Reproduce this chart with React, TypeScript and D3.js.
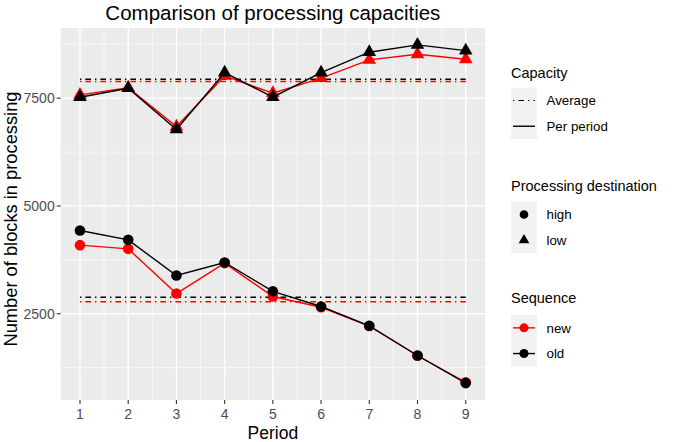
import React from "react";
import * as d3 from "d3";

const periods = [1, 2, 3, 4, 5, 6, 7, 8, 9];
const lowNew = [7577, 7740, 6841, 8017, 7616, 7964, 8388, 8520, 8404];
const lowOld = [7523, 7732, 6775, 8094, 7523, 8094, 8567, 8736, 8604];
const highNew = [4091, 4005, 2969, 3674, 2899, 2650, 2215, 1525, 910];
const highOld = [4430, 4214, 3386, 3688, 3020, 2667, 2220, 1531, 891];
const avgLowNew = 7885;
const avgLowOld = 7940;
const avgHighNew = 2776;
const avgHighOld = 2885;
const yTicks = [2500, 5000, 7500];
const yMinor = [1250, 3750, 6250, 8750];
const xMinor = [1.5, 2.5, 3.5, 4.5, 5.5, 6.5, 7.5, 8.5];

const FONT = "'Liberation Sans', Arial, sans-serif";
const RED = "#FF0000";
const BLACK = "#000000";
const DOTDASH = "1.4 4 5.6 4";

export default function App() {
  const W = 685, H = 442;
  const left = 60.7, right = 485, top = 28, bottom = 400;
  const all = [...lowNew, ...lowOld, ...highNew, ...highOld, avgLowNew, avgLowOld, avgHighNew, avgHighOld];
  const [mn, mx] = d3.extent(all) as [number, number];
  const pad = (mx - mn) * 0.05;
  const x = d3.scaleLinear().domain([1 - 0.4, 9 + 0.4]).range([left, right]);
  const y = d3.scaleLinear().domain([mn - pad, mx + pad]).range([bottom, top]);
  const line = d3.line<number>().x((_, i) => x(periods[i])).y((d) => y(d));
  const tri = d3.symbol().type(d3.symbolTriangle).size(80);
  const triSmall = d3.symbol().type(d3.symbolTriangle).size(50);

  const series = [
    { vals: highNew, color: RED, shape: "circle" },
    { vals: lowNew, color: RED, shape: "tri" },
    { vals: highOld, color: BLACK, shape: "circle" },
    { vals: lowOld, color: BLACK, shape: "tri" },
  ];
  const avgs = [
    { v: avgLowNew, color: RED },
    { v: avgHighNew, color: RED },
    { v: avgLowOld, color: BLACK },
    { v: avgHighOld, color: BLACK },
  ];

  const lx = 511, kw = 26, kh = 25.7, tx = 546.5;
  const keyBg = "#F2F2F2";

  return (
    <svg width={W} height={H} style={{ position: "absolute", left: 0, top: 0, background: "#fff" }} fontFamily={FONT}>
      <rect x={0} y={0} width={W} height={H} fill="#fff" />
      <text x={(left + right) / 2} y={20} textAnchor="middle" fontSize={20.5} fill="#000">
        Comparison of processing capacities
      </text>
      <rect x={left} y={top} width={right - left} height={bottom - top} fill="#EBEBEB" />
      {yMinor.map((t) => (
        <line key={"ym" + t} x1={left} x2={right} y1={y(t)} y2={y(t)} stroke="#fff" strokeWidth={0.6} />
      ))}
      {xMinor.map((t) => (
        <line key={"xm" + t} x1={x(t)} x2={x(t)} y1={top} y2={bottom} stroke="#fff" strokeWidth={0.6} />
      ))}
      {yTicks.map((t) => (
        <line key={"yM" + t} x1={left} x2={right} y1={y(t)} y2={y(t)} stroke="#fff" strokeWidth={1.3} />
      ))}
      {periods.map((t) => (
        <line key={"xM" + t} x1={x(t)} x2={x(t)} y1={top} y2={bottom} stroke="#fff" strokeWidth={1.3} />
      ))}
      {avgs.map((a, i) => (
        <line key={"avg" + i} x1={x(1)} x2={x(9)} y1={y(a.v)} y2={y(a.v)} stroke={a.color} strokeWidth={1.5} strokeDasharray={DOTDASH} />
      ))}
      {series.map((s, i) => (
        <g key={"s" + i}>
          <path d={line(s.vals) as string} fill="none" stroke={s.color} strokeWidth={1.4} />
          {s.vals.map((v, j) =>
            s.shape === "circle" ? (
              <circle key={j} cx={x(periods[j])} cy={y(v)} r={5.3} fill={s.color} />
            ) : (
              <path key={j} d={tri() as string} transform={`translate(${x(periods[j])},${y(v)})`} fill={s.color} />
            )
          )}
        </g>
      ))}
      {/* y axis */}
      {yTicks.map((t) => (
        <g key={"yt" + t}>
          <line x1={left - 4} x2={left} y1={y(t)} y2={y(t)} stroke="#333" strokeWidth={1.1} />
          <text x={left - 6} y={y(t)} dy="0.36em" textAnchor="end" fontSize={14} fill="#4D4D4D">
            {t}
          </text>
        </g>
      ))}
      {periods.map((t) => (
        <g key={"xt" + t}>
          <line x1={x(t)} x2={x(t)} y1={bottom} y2={bottom + 4} stroke="#333" strokeWidth={1.1} />
          <text x={x(t)} y={bottom + 18.5} textAnchor="middle" fontSize={14} fill="#4D4D4D">
            {t}
          </text>
        </g>
      ))}
      <text x={(left + right) / 2} y={439} textAnchor="middle" fontSize={17.5} fill="#000">
        Period
      </text>
      <text transform={`translate(16.5,${(top + bottom) / 2 + 5}) rotate(-90)`} textAnchor="middle" fontSize={18.3} fill="#000">
        Number of blocks in processing
      </text>

      {/* legends */}
      <text x={lx} y={78} fontSize={14.5} fill="#000">Capacity</text>
      <rect x={lx} y={87.7} width={kw} height={kh} fill={keyBg} />
      <rect x={lx} y={87.7 + kh} width={kw} height={kh} fill={keyBg} />
      <line x1={lx + 2} x2={lx + kw - 2} y1={87.7 + kh / 2} y2={87.7 + kh / 2} stroke="#000" strokeWidth={1.1} strokeDasharray={DOTDASH} />
      <line x1={lx + 2} x2={lx + kw - 2} y1={87.7 + kh * 1.5} y2={87.7 + kh * 1.5} stroke="#000" strokeWidth={1.4} />
      <text x={tx} y={87.7 + kh / 2} dy="0.35em" fontSize={13.3} fill="#000">Average</text>
      <text x={tx} y={87.7 + kh * 1.5} dy="0.35em" fontSize={13.3} fill="#000">Per period</text>

      <text x={lx} y={190.5} fontSize={14.5} fill="#000">Processing destination</text>
      <rect x={lx} y={201.7} width={kw} height={kh} fill={keyBg} />
      <rect x={lx} y={201.7 + kh} width={kw} height={kh} fill={keyBg} />
      <circle cx={lx + kw / 2} cy={201.7 + kh / 2} r={4.3} fill="#000" />
      <path d={triSmall() as string} transform={`translate(${lx + kw / 2},${201.7 + kh * 1.5})`} fill="#000" />
      <text x={tx} y={201.7 + kh / 2} dy="0.35em" fontSize={13.3} fill="#000">high</text>
      <text x={tx} y={201.7 + kh * 1.5} dy="0.35em" fontSize={13.3} fill="#000">low</text>

      <text x={lx} y={302.8} fontSize={14.5} fill="#000">Sequence</text>
      <rect x={lx} y={315} width={kw} height={kh} fill={keyBg} />
      <rect x={lx} y={315 + kh} width={kw} height={kh} fill={keyBg} />
      {[RED, BLACK].map((c, i) => (
        <g key={"seq" + i}>
          <line x1={lx + 2} x2={lx + kw - 2} y1={315 + kh * (i + 0.5)} y2={315 + kh * (i + 0.5)} stroke={c} strokeWidth={1.4} />
          <circle cx={lx + kw / 2} cy={315 + kh * (i + 0.5)} r={4.5} fill={c} />
        </g>
      ))}
      <text x={tx} y={315 + kh / 2} dy="0.35em" fontSize={13.3} fill="#000">new</text>
      <text x={tx} y={315 + kh * 1.5} dy="0.35em" fontSize={13.3} fill="#000">old</text>
    </svg>
  );
}
